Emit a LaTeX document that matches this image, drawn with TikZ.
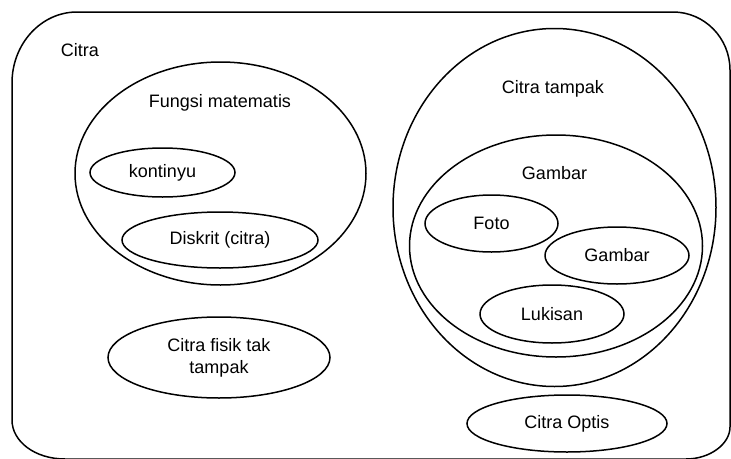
\documentclass[tikz,border=0pt]{standalone}
\usepackage{fontspec}
\setmainfont{Liberation Sans}
\usetikzlibrary{shapes.geometric}
\begin{document}
\begin{tikzpicture}[x=1pt,y=-1pt,
  every node/.style={font=\fontsize{18}{22}\selectfont},
  ell/.style={draw, ellipse, line width=1.5pt, inner sep=0pt, align=center},
  lbl/.style={inner sep=0pt, align=center},
  frame/.style={draw, line width=1.5pt}]
\useasboundingbox (0,0) rectangle (731,458);
% outer container (cut off at the bottom)
\draw[frame] (77,12) .. controls (41.1,12) and (12,43.8) .. (12,83)
  -- (12,420) .. controls (12,441.5) and (35,459) .. (65,459)
  -- (686,459) .. controls (710,459) and (730,444) .. (730,427)
  -- (730,70) .. controls (730,38) and (704.5,12) .. (673,12) -- cycle;
\node[lbl] (citralbl) at (80,50) {Citra};
% left group
\node[ell, minimum width=291pt, minimum height=223pt] (fungsi) at (220.5,173.5) {};
\node[lbl] (fungsilbl) at (220,103) {Fungsi matematis};
\node[ell, minimum width=145pt, minimum height=49pt] (kontinyu) at (162.5,172.5) {kontinyu};
\node[ell, minimum width=196pt, minimum height=56pt] (diskrit) at (220,240) {Diskrit (citra)};
\node[ell, minimum width=222pt, minimum height=81pt] (fisik) at (219,357.5) {Citra fisik tak\\tampak};
% right group
\node[ell, minimum width=323pt, minimum height=358pt] (tampak) at (554.5,207.5) {};
\node[lbl] (tampaklbl) at (553,89) {Citra tampak};
\node[ell, minimum width=293pt, minimum height=222pt] (gambarouter) at (556,246) {};
\node[lbl] (gambarlbl) at (554.5,173) {Gambar};
\node[ell, minimum width=133pt, minimum height=57pt] (foto) at (491.5,223.5) {Foto};
\node[ell, minimum width=144pt, minimum height=57pt] (gambar) at (617,255.5) {Gambar};
\node[ell, minimum width=144pt, minimum height=58pt] (lukisan) at (552,314) {Lukisan};
\node[ell, minimum width=200pt, minimum height=57pt] (optis) at (567,423.5) {Citra Optis};
\end{tikzpicture}
\end{document}
